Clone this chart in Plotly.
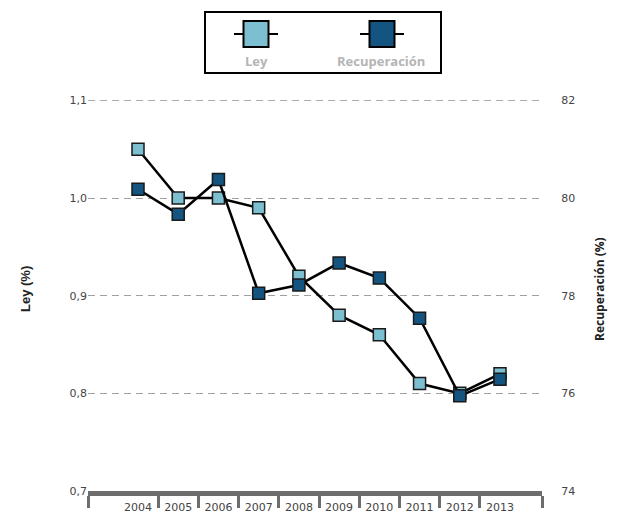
import plotly.graph_objects as go

years = [2004, 2005, 2006, 2007, 2008, 2009, 2010, 2011, 2012, 2013]
ley = [1.05, 1.00, 1.00, 0.99, 0.92, 0.88, 0.86, 0.81, 0.80, 0.82]
recuperacion = [80.18, 79.67, 80.38, 78.05, 78.22, 78.67, 78.36, 77.54, 75.95, 76.29]
year_labels = [str(y) for y in years]
ley_ticks = [0.7, 0.8, 0.9, 1.0, 1.1]
rec_ticks = [74, 76, 78, 80, 82]

LIGHT = "#7bbfd0"
DARK = "#135481"

W, H = 618, 512
L, R, T, B = 88, 76, 100, 21
pw = W - L - R
step = (500 - 138) / 9.0
x0 = years[0] - 50 / step
x1 = years[-1] + 42 / step

fig = go.Figure()
fig.add_trace(go.Scatter(
    x=years, y=ley, name="Ley", mode="lines+markers",
    line=dict(color="black", width=2.5),
    marker=dict(symbol="square", size=12, color=LIGHT, line=dict(color="#1a1a1a", width=1.5)),
    yaxis="y", showlegend=False))
fig.add_trace(go.Scatter(
    x=years, y=recuperacion, name="Recuperación", mode="lines+markers",
    line=dict(color="black", width=2.5),
    marker=dict(symbol="square", size=12, color=DARK, line=dict(color="#1a1a1a", width=1.5)),
    yaxis="y2", showlegend=False))

minor_vals = [x0] + [y + 0.5 for y in years[:-1]] + [x1]

fig.update_layout(
    width=W, height=H,
    margin=dict(l=L, r=R, t=T, b=B, autoexpand=False),
    plot_bgcolor="white", paper_bgcolor="white",
    separators=",.",
    font=dict(family="DejaVu Sans", size=11, color="#444"),
    xaxis=dict(
        range=[x0, x1], tickvals=years, ticktext=year_labels, automargin=False,
        showgrid=False, zeroline=False,
        showline=True, linecolor="#6d6d6d", linewidth=5,
        ticks="outside", ticklen=2, tickcolor="rgba(0,0,0,0)",
        tickfont=dict(family="DejaVu Sans", size=11, color="#444"),
        minor=dict(tickvals=minor_vals, ticks="outside", ticklen=12, tickwidth=3,
                   tickcolor="#6d6d6d", showgrid=False),
    ),
    yaxis=dict(
        range=[0.7, 1.1004], tickvals=ley_ticks, tickformat=".1f", automargin=False,
        showgrid=True, gridcolor="#a0a0a0", griddash="7px,5px", gridwidth=1,
        zeroline=False, showline=False, ticks="",
        tickfont=dict(family="DejaVu Sans", size=11, color="#444"),
    ),
    yaxis2=dict(
        range=[74, 82.008], tickvals=rec_ticks, overlaying="y", side="right", automargin=False,
        showgrid=False, zeroline=False, showline=False,
        ticks="outside", ticklen=16, tickcolor="rgba(0,0,0,0)",
        tickfont=dict(family="DejaVu Sans", size=11, color="#444"),
    ),
)

def px_x(px):
    return (px - L) / pw

def px_y(py):
    return 1 - (py - T) / (H - T - B)

annotations = [
    dict(text="<b>Ley (%)</b>", x=px_x(25), y=px_y(289), xref="paper", yref="paper",
         textangle=-90, showarrow=False, xanchor="center", yanchor="middle",
         font=dict(family="Liberation Sans", size=13, color="#222")),
    dict(text="<b>Recuperación (%)</b>", x=px_x(599), y=px_y(289), xref="paper", yref="paper",
         textangle=-90, showarrow=False, xanchor="center", yanchor="middle",
         font=dict(family="Open Sans", size=12, color="#222")),
    dict(text="<b>Ley</b>", x=px_x(256), y=px_y(61), xref="paper", yref="paper",
         showarrow=False, xanchor="center", yanchor="middle",
         font=dict(family="Open Sans", size=13, color="#b5b5b5")),
    dict(text="<b>Recuperación</b>", x=px_x(381), y=px_y(61), xref="paper", yref="paper",
         showarrow=False, xanchor="center", yanchor="middle",
         font=dict(family="Open Sans", size=13, color="#b5b5b5")),
]

shapes = [
    dict(type="line", xref="paper", yref="y", x0=0, x1=1, y0=ley_ticks[-1], y1=ley_ticks[-1],
         line=dict(color="#a0a0a0", width=1, dash="7px,5px"), layer="below"),
    dict(type="rect", xref="paper", yref="paper", x0=px_x(205), x1=px_x(441),
         y0=px_y(73), y1=px_y(12), line=dict(color="black", width=2), fillcolor="white", layer="above"),
]
for cx, col in [(256, LIGHT), (382, DARK)]:
    shapes.append(dict(type="line", xref="paper", yref="paper", x0=px_x(cx - 22), x1=px_x(cx + 22),
                       y0=px_y(34), y1=px_y(34), line=dict(color="black", width=2), layer="above"))
    shapes.append(dict(type="rect", xref="paper", yref="paper", x0=px_x(cx - 12.5), x1=px_x(cx + 12.5),
                       y0=px_y(47), y1=px_y(21), line=dict(color="black", width=2), fillcolor=col, layer="above"))

fig.update_layout(annotations=annotations, shapes=shapes)
fig.write_html("out.html")
